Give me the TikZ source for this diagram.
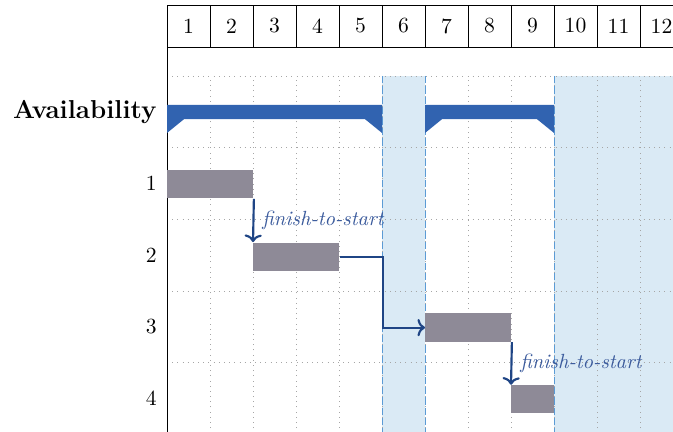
\documentclass[tikz,border=0pt]{standalone}
\usetikzlibrary{arrows.meta}
\definecolor{availblue}{HTML}{3163B0}
\definecolor{bargrey}{HTML}{8E8A97}
\definecolor{linkblue}{HTML}{1F4585}
\definecolor{labelblue}{HTML}{3A5A9C}
\definecolor{offday}{HTML}{DAEAF5}
\definecolor{offline}{HTML}{5B9BD5}
\begin{document}
\begin{tikzpicture}[x=0.7cm,y=1.167cm,
  daycell/.style={draw,minimum width=0.7cm,minimum height=0.684cm,inner sep=0pt},
  rowlabel/.style={anchor=east,inner sep=0pt},
  taskbar/.style={fill=bargrey,anchor=west,minimum height=0.46cm,inner sep=0pt},
  link/.style={linkblue,line width=1pt,-{To[length=3.5pt,width=8pt]}},
  linklabel/.style={font=\fontsize{9.5}{11}\selectfont\itshape,text=labelblue,inner sep=3.6pt}]
 \useasboundingbox (-3.884,1.060) rectangle (11.767,-4.965);
 \clip (-3.884,1.060) rectangle (11.767,-4.965);
 % non-working days
 \fill[offday](5,0) rectangle (6,-5.2);
 \fill[offday](9,0) rectangle (12,-5.2);
 \draw[gray!70,dotted,xstep=0.7cm,ystep=1.167cm](0,-5.2) grid (12,0);
 \draw[offline,dash pattern=on 3.4pt off 1.4pt](5,0)--(5,-5.2);
 \draw[offline,dash pattern=on 3.4pt off 1.4pt](6,0)--(6,-5.2);
 \draw[offline,dash pattern=on 3.4pt off 1.4pt](9,0)--(9,-5.2);
 \draw(0,0.404)--(0,-5.2);
 % title row
 \node[daycell] (d1) at (0.5,0.697) {1};
 \node[daycell] (d2) at (1.5,0.697) {2};
 \node[daycell] (d3) at (2.5,0.697) {3};
 \node[daycell] (d4) at (3.5,0.697) {4};
 \node[daycell] (d5) at (4.5,0.697) {5};
 \node[daycell] (d6) at (5.5,0.697) {6};
 \node[daycell] (d7) at (6.5,0.697) {7};
 \node[daycell] (d8) at (7.5,0.697) {8};
 \node[daycell] (d9) at (8.5,0.697) {9};
 \node[daycell] (d10) at (9.5,0.697) {10};
 \node[daycell] (d11) at (10.5,0.697) {11};
 \node[daycell] (d12) at (11.5,0.697) {12};
 % row labels
 \node[rowlabel] (lav) at (-0.233,-0.5) {\large\textbf{Availability}};
 \node[rowlabel] (l1) at (-0.233,-1.5) {1};
 \node[rowlabel] (l2) at (-0.233,-2.5) {2};
 \node[rowlabel] (l3) at (-0.233,-3.5) {3};
 \node[rowlabel] (l4) at (-0.233,-4.5) {4};
 % availability
 \fill[availblue](0,-0.404)--(5,-0.404)--(5,-0.795)--(4.6,-0.6)--(0.4,-0.6)--(0,-0.795)--cycle;
 \fill[availblue](6,-0.404)--(9,-0.404)--(9,-0.795)--(8.6,-0.6)--(6.4,-0.6)--(6,-0.795)--cycle;
 % tasks
 \node[taskbar,minimum width=1.4cm] (t1) at (0,-1.51) {};
 \node[taskbar,minimum width=1.4cm] (t2) at (2,-2.52) {};
 \node[taskbar,minimum width=1.4cm] (t3) at (6,-3.51) {};
 \node[taskbar,minimum width=0.7cm] (t4) at (8,-4.51) {};
 \draw[link](t1.south east)--node[linklabel,midway,right]{finish-to-start}(t2.north west);
 \draw[link](t2.east)--++(1,0)|-(t3.west);
 \draw[link](t3.south east)--node[linklabel,midway,right]{finish-to-start}(t4.north west);
\end{tikzpicture}
\end{document}
